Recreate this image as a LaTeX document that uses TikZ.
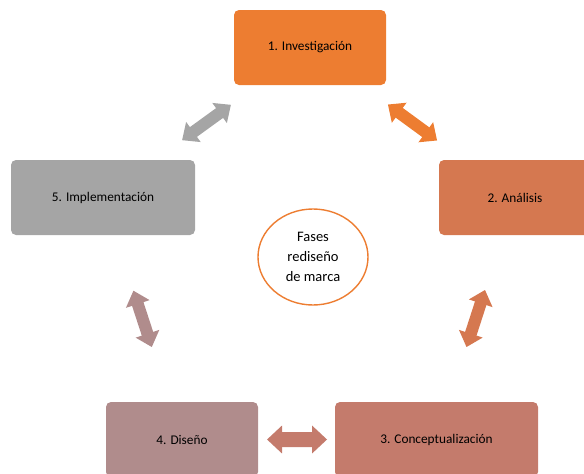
\documentclass[tikz,border=0pt]{standalone}
\usepackage{fontspec}
\setmainfont{Carlito}
\usetikzlibrary{arrows.meta,calc,shapes.geometric}
\definecolor{phaseOrange}{RGB}{237,125,49}
\definecolor{phaseCopper}{RGB}{213,120,80}
\definecolor{phaseClay}{RGB}{196,123,108}
\definecolor{phaseMauve}{RGB}{176,140,140}
\definecolor{phaseGray}{RGB}{165,165,165}

\begin{document}
\begin{tikzpicture}[
  x=1pt,y=-1pt,
  font=\fontsize{13.3}{16}\selectfont,
  phase/.style={rounded corners=5pt,minimum height=75pt,text=black,inner sep=4pt},
  hub/.style={ellipse,draw=phaseOrange,line width=1.4pt,fill=white,align=center,
    minimum width=110pt,minimum height=96pt,inner sep=0pt,
    font=\fontsize{14.5}{20}\selectfont},
  link/.style={line width=12pt,{Triangle[length=14pt,width=24pt]}-{Triangle[length=14pt,width=24pt]}},
  widelink/.style={line width=15pt,{Triangle[length=15pt,width=27pt]}-{Triangle[length=15pt,width=27pt]}}
]
\useasboundingbox (0,0) rectangle (584,474);

\node[phase,fill=phaseOrange,minimum width=152pt] (invest) at (310,47.5) {1. Investigación};
\node[phase,fill=phaseCopper,minimum width=152pt] (anal) at (515,197.5) {2. Análisis};
\node[phase,fill=phaseClay,minimum width=203pt] (concept) at (436.5,439.5) {3. Conceptualización};
\node[phase,fill=phaseMauve,minimum width=152pt] (design) at (182,439.5) {4. Diseño};
\node[phase,fill=phaseGray,minimum width=184pt] (implem) at (103,197.5) {5. Implementación};

\node[hub] (center) at (313,257) {Fases\\rediseño\\de marca};

% double arrows between the phases
\draw[link,draw=phaseOrange] ($(invest)!0.38!(anal)$) -- ($(invest)!0.62!(anal)$);
\draw[link,draw=phaseCopper] ($(anal)!0.382!(concept)$) -- ($(anal)!0.618!(concept)$);
\draw[widelink,draw=phaseClay] ($(design)!0.334!(concept)$) -- ($(design)!0.57!(concept)$);
\draw[link,draw=phaseMauve] ($(implem)!0.385!(design)$) -- ($(implem)!0.618!(design)$);
\draw[link,draw=phaseGray] ($(implem)!0.382!(invest)$) -- ($(implem)!0.618!(invest)$);

\end{tikzpicture}
\end{document}
